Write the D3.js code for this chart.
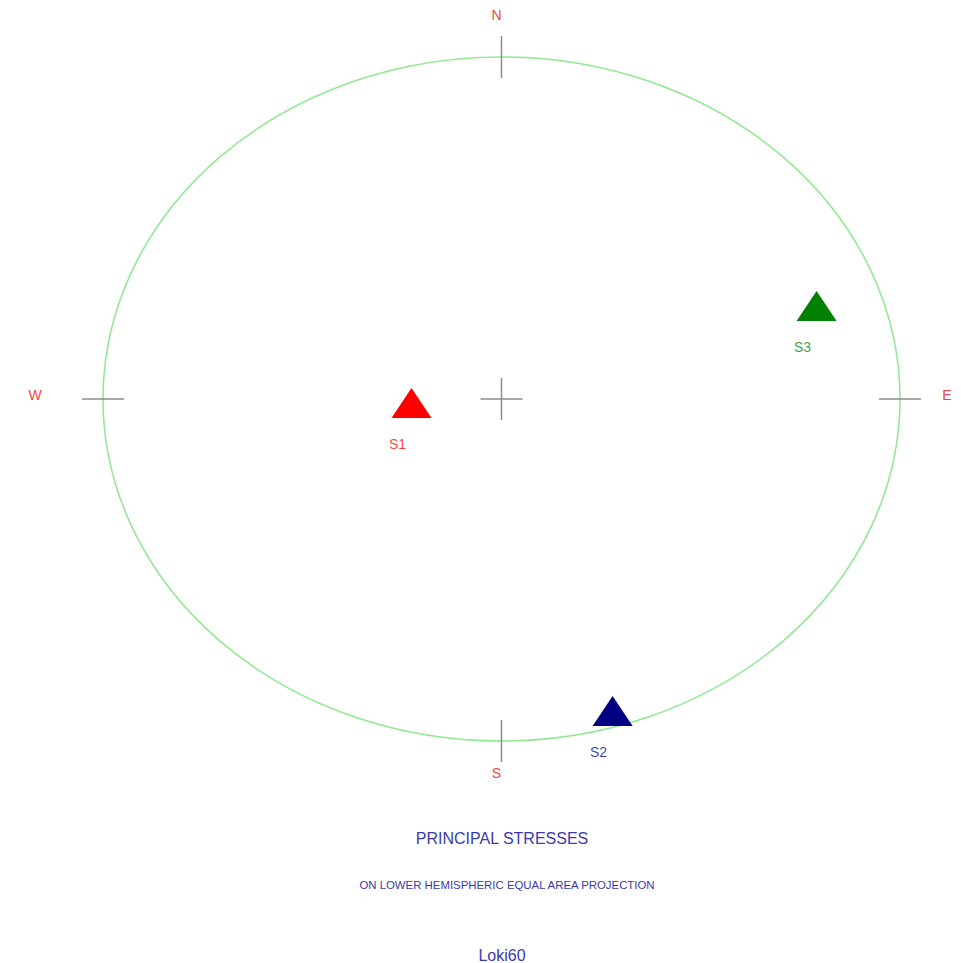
<!DOCTYPE html>
<html>
<head>
<meta charset="utf-8">
<script src="https://d3js.org/d3.v7.min.js"></script>
<style>
  body { margin: 0; background: #fff; }
  text { font-family: "Liberation Sans", Arial, sans-serif; }
</style>
</head>
<body>
<div id="stereonet"></div>
<script>
// principal stresses (trend / plunge in degrees)
var stressNames = ["S1", "S2", "S3"];
var stressTrends = [267, 163, 71];
var stressPlunges = [71.6, 5.2, 17.5];
var stressColors = ["#ff0000", "#000080", "#008000"];

// compass labels on the net
var compassLabels = ["N", "E", "S", "W"];
var compassAngles = [0, 90, 180, 270];

var titleLines = ["PRINCIPAL STRESSES", "ON LOWER HEMISPHERIC EQUAL AREA PROJECTION", "Loki60"];

var svgWidth = 961;
var svgHeight = 963;

var net = { cx: 501.5, cy: 399, rx: 398.5, ry: 342 };

var svg = d3.select("#stereonet")
  .append("svg")
  .attr("width", svgWidth)
  .attr("height", svgHeight);

// scales from unit net coordinates to pixels
var xScale = d3.scaleLinear()
  .domain([-1, 1])
  .range([net.cx - net.rx, net.cx + net.rx]);

var yScale = d3.scaleLinear()
  .domain([-1, 1])
  .range([net.cy + net.ry, net.cy - net.ry]);

// lower hemisphere equal area (Schmidt) projection
function project(trend, plunge) {
  var r = Math.SQRT2 * Math.sin((90 - plunge) * Math.PI / 360);
  var t = trend * Math.PI / 180;
  return [r * Math.sin(t), r * Math.cos(t)];
}

// primitive circle
svg.append("ellipse")
  .attr("cx", xScale(0))
  .attr("cy", yScale(0))
  .attr("rx", xScale(1) - xScale(0))
  .attr("ry", yScale(0) - yScale(1))
  .attr("fill", "none")
  .attr("stroke", "#90e890")
  .attr("stroke-width", 1.5);

// tick crosses at the compass points and the centre
var tickLen = 21;
var crossPts = compassAngles.map(a => project(a, 0)).concat([[0, 0]]);

crossPts.forEach(function(p, i) {
  var x = xScale(p[0]), y = yScale(p[1]);
  var horiz = i === 1 || i === 3 || i === 4;
  var vert = i === 0 || i === 2 || i === 4;
  if (horiz) {
    svg.append("line")
      .attr("x1", x - tickLen).attr("x2", x + tickLen)
      .attr("y1", y).attr("y2", y)
      .attr("stroke", "#8c8c8c").attr("stroke-width", 1.5);
  }
  if (vert) {
    svg.append("line")
      .attr("x1", x).attr("x2", x)
      .attr("y1", y - tickLen).attr("y2", y + tickLen)
      .attr("stroke", "#8c8c8c").attr("stroke-width", 1.5);
  }
});

// compass letters
var labelOffsets = [[-5, -42], [47, -4], [-5, 32], [-68, -4]];
svg.selectAll(".compass")
  .data(compassLabels)
  .enter()
  .append("text")
  .attr("class", "compass")
  .attr("x", (d, i) => xScale(project(compassAngles[i], 0)[0]) + labelOffsets[i][0])
  .attr("y", (d, i) => yScale(project(compassAngles[i], 0)[1]) + labelOffsets[i][1])
  .attr("text-anchor", "middle")
  .attr("dominant-baseline", "central")
  .attr("font-size", 14)
  .attr("fill", "#e84848")
  .text(d => d);

// stress triangles
var triW = 40, triH = 30;
var stressPts = stressNames.map((n, i) => project(stressTrends[i], stressPlunges[i]));

svg.selectAll(".stress")
  .data(stressPts)
  .enter()
  .append("path")
  .attr("class", "stress")
  .attr("d", function(p) {
    var x = xScale(p[0]), y = yScale(p[1]);
    return "M" + x + "," + (y - triH / 2) +
      "L" + (x + triW / 2) + "," + (y + triH / 2) +
      "L" + (x - triW / 2) + "," + (y + triH / 2) + "Z";
  })
  .attr("fill", (d, i) => stressColors[i]);

svg.selectAll(".stressLabel")
  .data(stressPts)
  .enter()
  .append("text")
  .attr("class", "stressLabel")
  .attr("x", p => xScale(p[0]) - 14)
  .attr("y", p => yScale(p[1]) + triH / 2 + 26)
  .attr("text-anchor", "middle")
  .attr("dominant-baseline", "central")
  .attr("font-size", 14)
  .attr("fill", (d, i) => stressColors[i])
  .attr("fill-opacity", 0.75)
  .text((d, i) => stressNames[i]);

// titles
var titleX = [502, 507, 502];
var titleY = [838, 885, 955];
var titleSize = [16, 11.4, 16];
svg.selectAll(".title")
  .data(titleLines)
  .enter()
  .append("text")
  .attr("class", "title")
  .attr("x", (d, i) => titleX[i])
  .attr("y", (d, i) => titleY[i])
  .attr("text-anchor", "middle")
  .attr("dominant-baseline", "central")
  .attr("font-size", (d, i) => titleSize[i])
  .attr("fill", "#3a3aa8")
  .text(d => d);
</script>
</body>
</html>
